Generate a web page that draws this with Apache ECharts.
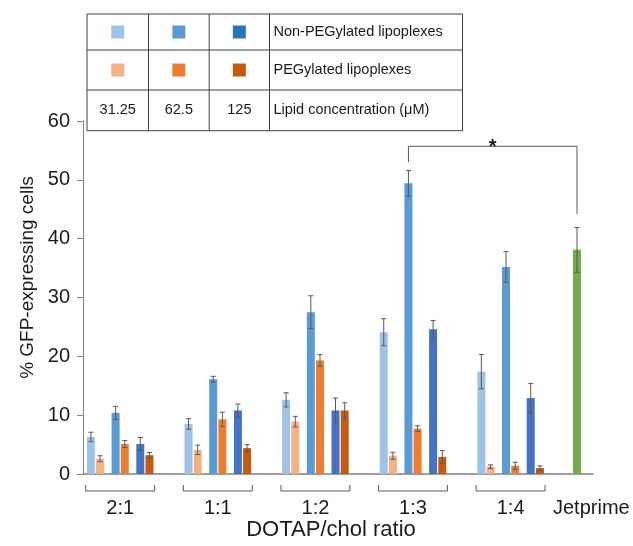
<!DOCTYPE html>
<html>
<head>
<meta charset="utf-8">
<script src="https://cdn.jsdelivr.net/npm/echarts@6/dist/echarts.min.js"></script>
<style>
  html, body { margin: 0; padding: 0; background: #fff; }
  #chart { width: 633px; height: 546px; }
</style>
</head>
<body>
<div id="chart"></div>
<script>
// DOTAP/chol ratios (x groups)
var ratios = ['2:1', '1:1', '1:2', '1:3', '1:4'];
var concentrations = ['31.25', '62.5', '125'];

// % GFP-expressing cells, mean per ratio
var nonPeg31 = [6.3, 8.5, 12.6, 24.1, 17.4];
var peg31 = [2.6, 4.1, 8.9, 3.1, 1.25];
var nonPeg62 = [10.4, 16.1, 27.5, 49.4, 35.2];
var peg62 = [5.1, 9.3, 19.3, 7.7, 1.4];
var nonPeg125 = [5.1, 10.8, 10.8, 24.6, 12.9];
var peg125 = [3.2, 4.4, 10.8, 2.9, 1.0];

// error bars (+/-)
var nonPegErr31 = [0.8, 0.9, 1.2, 2.3, 2.9];
var pegErr31 = [0.5, 0.8, 0.9, 0.6, 0.3];
var nonPegErr62 = [1.1, 0.5, 2.8, 2.2, 2.6];
var pegErr62 = [0.6, 1.2, 1.0, 0.5, 0.6];
var nonPegErr125 = [1.1, 1.1, 2.1, 1.5, 2.5];
var pegErr125 = [0.45, 0.6, 1.3, 1.1, 0.4];

var jetprimeLabel = 'Jetprime';
var jetprime = [38.1];
var jetprimeErr = [3.8];

// significance bracket: 1:3 / 62.5 non-PEG vs Jetprime
var sigTop = 55.7;
var sigLeftEnd = 53.0;
var sigRightEnd = 44.2;

var FONT = 'Liberation Sans, Arial, sans-serif';
var ERR = '#595959';
var BAR_W = 0.082;      // bar width, fraction of one group step
var PAIR_STEP = 0.253;  // distance between concentration pairs
var IN_PAIR = 0.047;    // half distance between the two bars of a pair
var JET_OFFSET = -0.32;

var nonPegColors = ['#9dc3e6', '#5b9bd5', '#4472c4'];
var pegColors = ['#f4b183', '#ed7d31', '#c55a11'];
var legendNonPeg = ['#9dc3e6', '#5b9bd5', '#2e75b6'];
var legendPeg = ['#f4b183', '#ed7d31', '#c55a11'];

function barOffset(pair, peg) {
  return (pair - 1) * PAIR_STEP + (peg ? IN_PAIR : -IN_PAIR);
}

function barItem(offset, color) {
  return function (params, api) {
    var gi = api.value(0), v = api.value(1), e = api.value(2);
    var band = api.size([1, 0])[0];
    var base = api.coord([gi, 0]);
    var top = api.coord([gi, v]);
    var hi = api.coord([gi, v + e])[1];
    var lo = api.coord([gi, Math.max(v - e, 0)])[1];
    var cx = base[0] + offset * band;
    var w = BAR_W * band;
    var cap = 2.5;
    var es = { stroke: ERR, lineWidth: 1 };
    return {
      type: 'group',
      children: [
        { type: 'rect', shape: { x: cx - w / 2, y: top[1], width: w, height: base[1] - top[1] }, style: { fill: color } },
        { type: 'line', shape: { x1: cx, y1: hi, x2: cx, y2: lo }, style: es },
        { type: 'line', shape: { x1: cx - cap, y1: hi, x2: cx + cap, y2: hi }, style: es },
        { type: 'line', shape: { x1: cx - cap, y1: lo, x2: cx + cap, y2: lo }, style: es }
      ]
    };
  };
}

function toData(values, errors) {
  return values.map(function (v, i) { return [i, v, errors[i]]; });
}

var barSeries = [
  { name: 'Non-PEGylated 31.25', values: nonPeg31, errors: nonPegErr31, pair: 0, peg: false },
  { name: 'PEGylated 31.25', values: peg31, errors: pegErr31, pair: 0, peg: true },
  { name: 'Non-PEGylated 62.5', values: nonPeg62, errors: nonPegErr62, pair: 1, peg: false },
  { name: 'PEGylated 62.5', values: peg62, errors: pegErr62, pair: 1, peg: true },
  { name: 'Non-PEGylated 125', values: nonPeg125, errors: nonPegErr125, pair: 2, peg: false },
  { name: 'PEGylated 125', values: peg125, errors: pegErr125, pair: 2, peg: true }
].map(function (s) {
  var color = s.peg ? pegColors[s.pair] : nonPegColors[s.pair];
  return {
    type: 'custom',
    name: s.name,
    clip: false,
    renderItem: barItem(barOffset(s.pair, s.peg), color),
    data: toData(s.values, s.errors)
  };
});

// Jetprime sits one group step after the last ratio
var jetSeries = {
  type: 'custom',
  name: jetprimeLabel,
  clip: false,
  renderItem: function (params, api) {
    var g = barItem(JET_OFFSET, '#70ad47')(params, api);
    var band = api.size([1, 0])[0];
    var base = api.coord([api.value(0), 0]);
    g.children.push({
      type: 'text',
      style: {
        x: base[0] + (JET_OFFSET + 0.147) * band, y: base[1] + 34,
        text: jetprimeLabel, align: 'center', verticalAlign: 'middle',
        fontSize: 20, fontFamily: FONT, fill: '#1a1a1a'
      }
    });
    return g;
  },
  data: [[ratios.length, jetprime[0], jetprimeErr[0]]]
};

// brackets and ratio labels under the axis
var groupSeries = {
  type: 'custom',
  name: 'groups',
  clip: false,
  silent: true,
  renderItem: function (params, api) {
    var gi = api.value(0);
    var band = api.size([1, 0])[0];
    var base = api.coord([gi, 0]);
    var half = 0.353 * band;
    var y1 = base[1] + 11, y2 = base[1] + 17;
    return {
      type: 'group',
      children: [
        { type: 'polyline', shape: { points: [[base[0] - half, y1], [base[0] - half, y2], [base[0] + half, y2], [base[0] + half, y1]] },
          style: { stroke: '#595959', lineWidth: 1, fill: null } },
        { type: 'text', style: { x: base[0], y: base[1] + 34, text: ratios[gi], align: 'center', verticalAlign: 'middle',
          fontSize: 20, fontFamily: FONT, fill: '#1a1a1a' } }
      ]
    };
  },
  data: ratios.map(function (r, i) { return [i]; })
};

var sigSeries = {
  type: 'custom',
  name: 'significance',
  clip: false,
  silent: true,
  renderItem: function (params, api) {
    var band = api.size([1, 0])[0];
    var l = api.coord([api.value(0), sigTop]);
    var r = api.coord([api.value(1), sigTop]);
    var lx = l[0] + barOffset(1, false) * band;
    var rx = r[0] + JET_OFFSET * band;
    var ly = api.coord([0, sigLeftEnd])[1];
    var ry = api.coord([0, sigRightEnd])[1];
    return {
      type: 'group',
      children: [
        { type: 'polyline', shape: { points: [[lx, ly], [lx, l[1]], [rx, l[1]], [rx, ry]] },
          style: { stroke: '#595959', lineWidth: 1, fill: null } },
        { type: 'text', style: { x: (lx + rx) / 2, y: l[1] + 1, text: '*', align: 'center', verticalAlign: 'middle',
          fontSize: 20, fontWeight: 'bold', fontFamily: FONT, fill: '#1a1a1a' } }
      ]
    };
  },
  data: [[3, ratios.length]]
};

// table-style legend at the top
function buildLegend() {
  var left = 87, top = 14;
  var colW = [61.5, 60.7, 60.3, 193];
  var rowH = [36, 40, 40.7];
  var width = colW.reduce(function (a, b) { return a + b; }, 0);
  var height = rowH.reduce(function (a, b) { return a + b; }, 0);
  var line = { stroke: '#404040', lineWidth: 1 };
  var els = [{ type: 'rect', shape: { x: left, y: top, width: width, height: height }, style: { fill: '#fff', stroke: '#404040', lineWidth: 1 } }];
  var x = left;
  for (var c = 0; c < colW.length - 1; c++) {
    x += colW[c];
    els.push({ type: 'line', shape: { x1: x, y1: top, x2: x, y2: top + height }, style: line });
  }
  var y = top;
  for (var r = 0; r < rowH.length - 1; r++) {
    y += rowH[r];
    els.push({ type: 'line', shape: { x1: left, y1: y, x2: left + width, y2: y }, style: line });
  }
  var rows = [
    { colors: legendNonPeg, label: 'Non-PEGylated lipoplexes' },
    { colors: legendPeg, label: 'PEGylated lipoplexes' },
    { texts: concentrations, label: 'Lipid concentration (\u03bcM)' }
  ];
  var ry = top;
  rows.forEach(function (row, ri) {
    var cy = ry + rowH[ri] / 2;
    var cx = left;
    for (var c = 0; c < 3; c++) {
      var mid = cx + colW[c] / 2;
      if (row.colors) {
        els.push({ type: 'rect', shape: { x: mid - 6.5, y: cy - 6.5, width: 13, height: 13 }, style: { fill: row.colors[c] } });
      } else {
        els.push({ type: 'text', style: { x: mid, y: cy, text: row.texts[c], align: 'center', verticalAlign: 'middle',
          fontSize: 14.5, fontFamily: FONT, fill: '#1a1a1a' } });
      }
      cx += colW[c];
    }
    els.push({ type: 'text', style: { x: cx + 4, y: cy, text: row.label, align: 'left', verticalAlign: 'middle',
      fontSize: 14.5, fontFamily: FONT, fill: '#1a1a1a' } });
    ry += rowH[ri];
  });
  return els;
}

var myChart = echarts.init(document.getElementById('chart'));

var option = {
  backgroundColor: '#fff',
  animation: false,
  grid: { left: 83, right: 40, top: 121, bottom: 71 },
  xAxis: {
    type: 'value',
    min: -0.381,
    max: 4.844,
    name: 'DOTAP/chol ratio',
    nameLocation: 'middle',
    nameGap: 45,
    nameTextStyle: { fontSize: 22, fontFamily: FONT, color: '#1a1a1a', padding: [0, 14, 0, 0] },
    axisLine: { onZero: false, lineStyle: { color: '#808080', width: 1.5 } },
    axisTick: { show: false },
    axisLabel: { show: false },
    splitLine: { show: false }
  },
  yAxis: {
    type: 'value',
    min: 0,
    max: 60,
    interval: 10,
    name: '% GFP-expressing cells',
    nameLocation: 'middle',
    nameGap: 46,
    nameTextStyle: { fontSize: 19, fontFamily: FONT, color: '#1a1a1a', padding: [0, 0, 0, 40] },
    axisLine: { show: true, onZero: false, lineStyle: { color: '#808080', width: 1 } },
    axisTick: { show: true, length: 6, lineStyle: { color: '#808080' } },
    axisLabel: { fontSize: 20, fontFamily: FONT, color: '#1a1a1a', margin: 13 },
    splitLine: { show: false }
  },
  graphic: buildLegend(),
  series: barSeries.concat([jetSeries, groupSeries, sigSeries])
};

myChart.setOption(option);
</script>
</body>
</html>
